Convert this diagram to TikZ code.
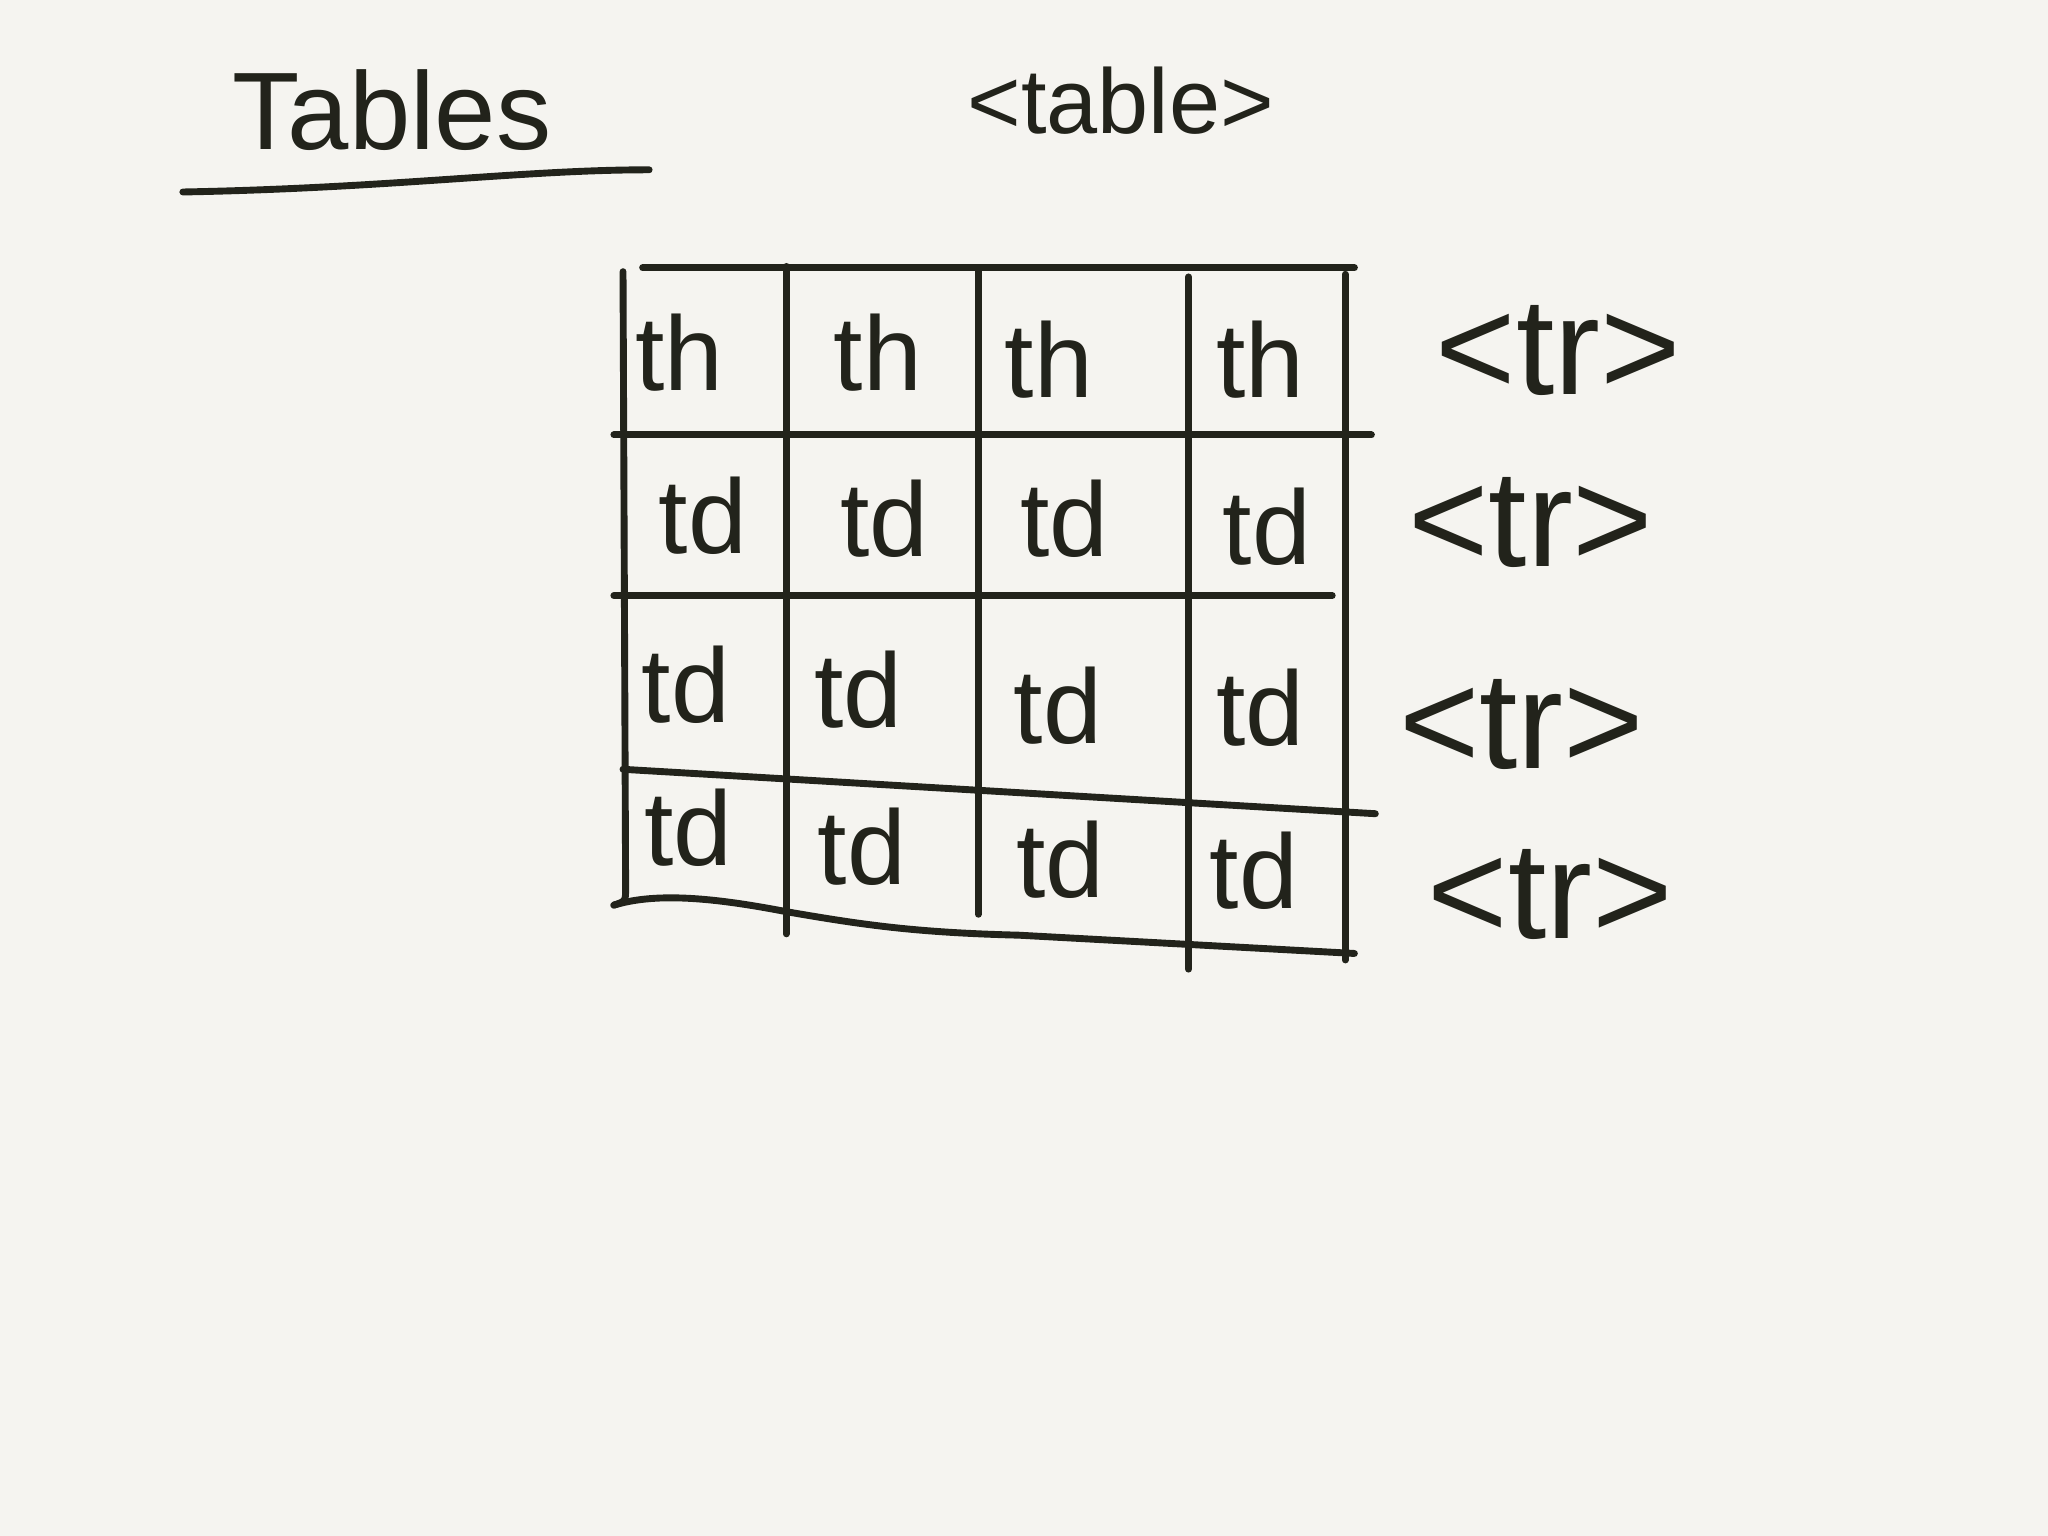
\documentclass[tikz,border=0pt]{standalone}
\usepackage{fontspec}
\setmainfont{Liberation Sans}
\usepackage{xcolor}
\usepackage{tikz}
\usetikzlibrary{positioning}

\definecolor{ink}{HTML}{22231B}
\definecolor{paper}{HTML}{F5F4F0}

\begin{document}
\begin{tikzpicture}[
  x=0.01cm, y=-0.01cm,
  rule/.style={draw=ink, line width=1.5pt, line cap=round},
  cell/.style={text=ink, font=\fontsize{23}{27}\selectfont, inner sep=0pt},
  trlabel/.style={text=ink, font=\fontsize{30}{34}\selectfont, inner sep=0pt},
  heading/.style={text=ink, font=\fontsize{24}{28}\selectfont, inner sep=0pt}
]
\fill[paper] (0,0) rectangle (1568,1176);
\useasboundingbox (0,0) rectangle (1568,1176);

% titles
\node[heading] (title) at (300,84) {Tables};
\node[heading, font=\fontsize{20}{24}\selectfont] (tabletag) at (858,77) {<table>};
\draw[rule] (140,147) .. controls (300,144) and (400,130) .. (497,130);

% grid
\draw[rule] (492,205) -- (1037,205);
\draw[rule] (477,208) -- (479,680) .. controls (479,690) .. (470,693);
\draw[rule] (602,204) -- (602,715);
\draw[rule] (749,205) -- (749,700);
\draw[rule] (910,212) -- (910,742);
\draw[rule] (1030,210) -- (1030,735);
\draw[rule] (470,333) -- (1050,333);
\draw[rule] (470,456) -- (1020,456);
\draw[rule] (477,589) -- (1053,623);
\draw[rule] (470,693) .. controls (500,684) and (540,686) .. (602,698)
  .. controls (660,708) and (700,714) .. (780,716) -- (1037,730);

% header row
\node[cell] (h1) at (520,270) {th};
\node[cell] (h2) at (672,270) {th};
\node[cell] (h3) at (803,275) {th};
\node[cell] (h4) at (965,275) {th};

% data rows
\node[cell] (d21) at (538,395) {td};
\node[cell] (d22) at (677,397) {td};
\node[cell] (d23) at (815,397) {td};
\node[cell] (d24) at (970,403) {td};

\node[cell] (d31) at (525,524) {td};
\node[cell] (d32) at (657,528) {td};
\node[cell] (d33) at (810,540) {td};
\node[cell] (d34) at (965,542) {td};

\node[cell] (d41) at (527,634) {td};
\node[cell] (d42) at (660,648) {td};
\node[cell] (d43) at (812,658) {td};
\node[cell] (d44) at (960,667) {td};

% row tags
\node[trlabel] (tr1) at (1193,268) {<tr>};
\node[trlabel] (tr2) at (1172,400) {<tr>};
\node[trlabel] (tr3) at (1165,555) {<tr>};
\node[trlabel] (tr4) at (1187,685) {<tr>};
\end{tikzpicture}
\end{document}
